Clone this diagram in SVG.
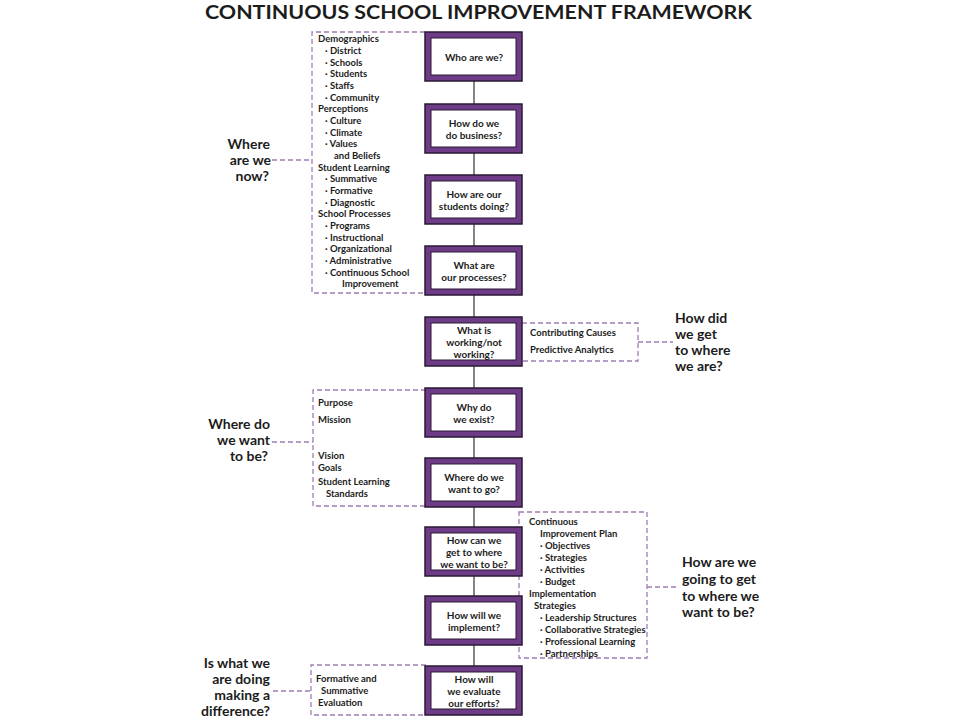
<svg xmlns="http://www.w3.org/2000/svg" width="960" height="720" viewBox="0 0 960 720">
<style>
text{font-family:Lato,"Open Sans","Liberation Sans",sans-serif;font-weight:700;fill:#1c1c1c}
.title{font-size:19.5px}
.nt{font-size:10px;text-anchor:middle}
.li{font-size:9.5px}
.q{font-size:14px}
.qr{font-size:14px;text-anchor:end}
.dash{fill:none;stroke:#9f7db6;stroke-width:1.3;stroke-dasharray:5 3}
.outer{fill:#6e3c87;stroke:#2a1834;stroke-width:1.5}
.inner{fill:#fff;stroke:#2a1834;stroke-width:1}
.spine{stroke:#333;stroke-width:1.2}
</style>
<rect width="960" height="720" fill="#fff"/>
<text class="title" x="205" y="19" textLength="547" lengthAdjust="spacingAndGlyphs">CONTINUOUS SCHOOL IMPROVEMENT FRAMEWORK</text>

<g id="connectors">
<line class="spine" x1="474" y1="81" x2="474" y2="666"/>
<path class="dash" d="M425,32 H312 V293 H427"/>
<path class="dash" d="M522,323 H638 V361 H522"/>
<path class="dash" d="M426,390 H313 V506 H426"/>
<rect class="dash" x="519" y="512" width="128" height="146"/>
<path class="dash" d="M426,665 H311 V715 H426"/>
<line class="dash" x1="272" y1="160" x2="312" y2="160"/>
<line class="dash" x1="638" y1="342" x2="673" y2="342"/>
<line class="dash" x1="272" y1="442" x2="313" y2="442"/>
<line class="dash" x1="647" y1="587" x2="679" y2="587"/>
<line class="dash" x1="273" y1="691" x2="311" y2="691"/>
</g>

<g id="node1"><rect class="outer" x="425" y="32" width="97" height="49"/><rect class="inner" x="431" y="38" width="85" height="37"/>
<text class="nt" x="474" y="60.5">Who are we?</text></g>
<g id="node2"><rect class="outer" x="425" y="104" width="97" height="49"/><rect class="inner" x="431" y="110" width="85" height="37"/>
<text class="nt" x="474" y="126.5">How do we</text><text class="nt" x="474" y="138.5">do business?</text></g>
<g id="node3"><rect class="outer" x="425" y="175" width="97" height="49"/><rect class="inner" x="431" y="181" width="85" height="37"/>
<text class="nt" x="474" y="197.5">How are our</text><text class="nt" x="474" y="209.5">students doing?</text></g>
<g id="node4"><rect class="outer" x="425" y="246" width="97" height="49"/><rect class="inner" x="431" y="252" width="85" height="37"/>
<text class="nt" x="474" y="268.5">What are</text><text class="nt" x="474" y="280.5">our processes?</text></g>
<g id="node5"><rect class="outer" x="425" y="317" width="97" height="49"/><rect class="inner" x="431" y="323" width="85" height="37"/>
<text class="nt" x="474" y="333.5">What is</text><text class="nt" x="474" y="345.5">working/not</text><text class="nt" x="474" y="357.5">working?</text></g>
<g id="node6"><rect class="outer" x="425" y="388" width="97" height="49"/><rect class="inner" x="431" y="394" width="85" height="37"/>
<text class="nt" x="474" y="410.5">Why do</text><text class="nt" x="474" y="422.5">we exist?</text></g>
<g id="node7"><rect class="outer" x="425" y="458" width="97" height="49"/><rect class="inner" x="431" y="464" width="85" height="37"/>
<text class="nt" x="474" y="480.5">Where do we</text><text class="nt" x="474" y="492.5">want to go?</text></g>
<g id="node8"><rect class="outer" x="425" y="527" width="97" height="49"/><rect class="inner" x="431" y="533" width="85" height="37"/>
<text class="nt" x="474" y="543.5">How can we</text><text class="nt" x="474" y="555.5">get to where</text><text class="nt" x="474" y="567.5">we want to be?</text></g>
<g id="node9"><rect class="outer" x="425" y="596" width="97" height="49"/><rect class="inner" x="431" y="602" width="85" height="37"/>
<text class="nt" x="474" y="618.5">How will we</text><text class="nt" x="474" y="630.5">implement?</text></g>
<g id="node10"><rect class="outer" x="425" y="666" width="97" height="49"/><rect class="inner" x="431" y="672" width="85" height="37"/>
<text class="nt" x="474" y="682.5">How will</text><text class="nt" x="474" y="694.5">we evaluate</text><text class="nt" x="474" y="706.5">our efforts?</text></g>

<g id="list-now">
<text class="li" x="318" y="42.3">Demographics</text>
<text class="li" x="325" y="54">· District</text>
<text class="li" x="325" y="65.6">· Schools</text>
<text class="li" x="325" y="77.3">· Students</text>
<text class="li" x="325" y="89">· Staffs</text>
<text class="li" x="325" y="100.6">· Community</text>
<text class="li" x="318" y="112.3">Perceptions</text>
<text class="li" x="325" y="124">· Culture</text>
<text class="li" x="325" y="135.6">· Climate</text>
<text class="li" x="325" y="147.3">· Values</text>
<text class="li" x="334" y="159">and Beliefs</text>
<text class="li" x="318" y="170.6">Student Learning</text>
<text class="li" x="325" y="182.3">· Summative</text>
<text class="li" x="325" y="194">· Formative</text>
<text class="li" x="325" y="205.6">· Diagnostic</text>
<text class="li" x="318" y="217.3">School Processes</text>
<text class="li" x="325" y="229">· Programs</text>
<text class="li" x="325" y="240.6">· Instructional</text>
<text class="li" x="325" y="252.3">· Organizational</text>
<text class="li" x="325" y="264">· Administrative</text>
<text class="li" x="325" y="275.6">· Continuous School</text>
<text class="li" x="342" y="287.3">Improvement</text>
</g>
<g id="label-now">
<text class="qr" x="270" y="149">Where</text>
<text class="qr" x="271" y="165">are we</text>
<text class="qr" x="269" y="181">now?</text>
</g>

<g id="list-how-did">
<text class="li" x="530" y="335.5">Contributing Causes</text>
<text class="li" x="530" y="352.5">Predictive Analytics</text>
</g>
<g id="label-how-did">
<text class="q" x="675" y="323">How did</text>
<text class="q" x="675" y="339">we get</text>
<text class="q" x="675" y="355">to where</text>
<text class="q" x="675" y="371">we are?</text>
</g>

<g id="list-want">
<text class="li" x="318" y="406">Purpose</text>
<text class="li" x="318" y="423">Mission</text>
<text class="li" x="318" y="458.5">Vision</text>
<text class="li" x="318" y="470.5">Goals</text>
<text class="li" x="318" y="484.5">Student Learning</text>
<text class="li" x="326" y="496.5">Standards</text>
</g>
<g id="label-want">
<text class="qr" x="270" y="429">Where do</text>
<text class="qr" x="270" y="445">we want</text>
<text class="qr" x="268" y="461">to be?</text>
</g>

<g id="list-going">
<text class="li" x="529" y="524.5">Continuous</text>
<text class="li" x="540" y="536.5">Improvement Plan</text>
<text class="li" x="540" y="548.5">· Objectives</text>
<text class="li" x="540" y="560.5">· Strategies</text>
<text class="li" x="540" y="572.5">· Activities</text>
<text class="li" x="540" y="584.5">· Budget</text>
<text class="li" x="529" y="597">Implementation</text>
<text class="li" x="534" y="609">Strategies</text>
<text class="li" x="540" y="621">· Leadership Structures</text>
<text class="li" x="540" y="633">· Collaborative Strategies</text>
<text class="li" x="540" y="645">· Professional Learning</text>
<text class="li" x="540" y="657">· Partnerships</text>
</g>
<g id="label-going">
<text class="q" x="682" y="567">How are we</text>
<text class="q" x="682" y="584">going to get</text>
<text class="q" x="682" y="601">to where we</text>
<text class="q" x="682" y="617">want to be?</text>
</g>

<g id="list-eval">
<text class="li" x="316" y="681.5">Formative and</text>
<text class="li" x="321" y="693.5">Summative</text>
<text class="li" x="318" y="705.5">Evaluation</text>
</g>
<g id="label-eval">
<text class="qr" x="270" y="668">Is what we</text>
<text class="qr" x="270" y="684">are doing</text>
<text class="qr" x="270" y="700">making a</text>
<text class="qr" x="270" y="716">difference?</text>
</g>
</svg>
